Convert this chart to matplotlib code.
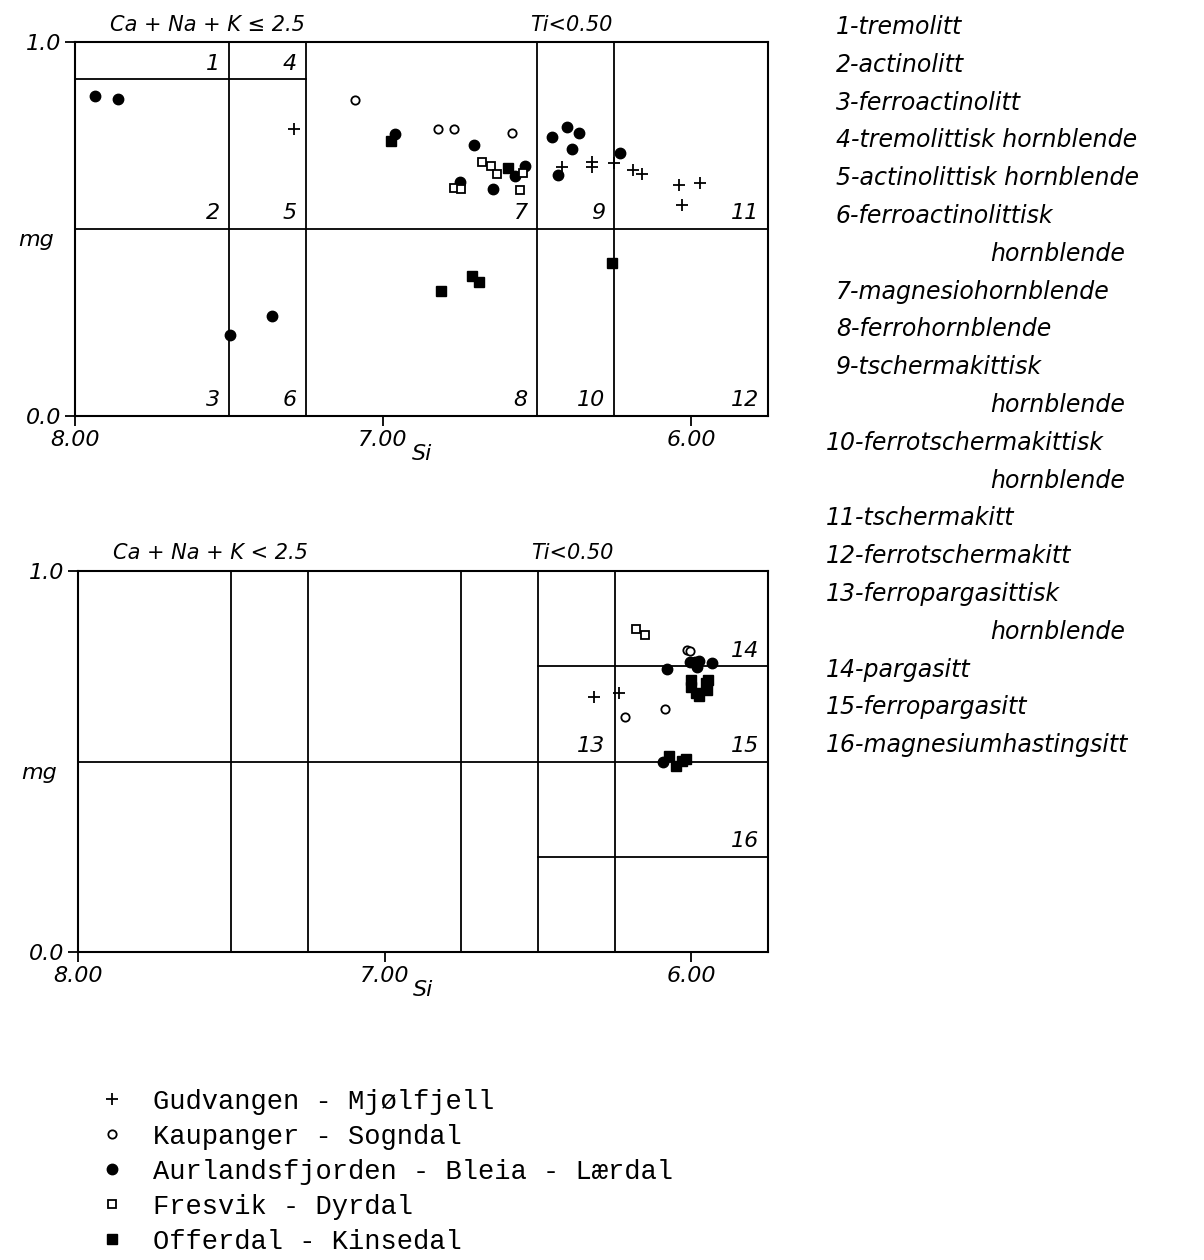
import matplotlib
matplotlib.use("Agg")
import matplotlib.pyplot as plt

# ---- values (Si, mg) ----
# upper diagram
gud_si_top = [7.29, 6.42, 6.32, 6.32, 6.25, 6.19, 6.16, 6.04, 5.97, 6.03]
gud_mg_top = [0.767, 0.667, 0.679, 0.666, 0.678, 0.657, 0.646, 0.617, 0.624, 0.564]
kau_si_top = [7.09, 6.82, 6.77, 6.58]
kau_mg_top = [0.845, 0.767, 0.768, 0.756]
aur_si_top = [7.935, 7.859, 7.498, 7.362, 6.96, 6.703, 6.749, 6.642, 6.571, 6.54,
              6.452, 6.403, 6.365, 6.388, 6.431, 6.229]
aur_mg_top = [0.856, 0.847, 0.217, 0.268, 0.755, 0.726, 0.627, 0.607, 0.641, 0.669,
              0.745, 0.774, 0.756, 0.713, 0.644, 0.703]
fre_si_top = [6.678, 6.648, 6.629, 6.769, 6.746, 6.544, 6.554]
fre_mg_top = [0.680, 0.669, 0.646, 0.611, 0.606, 0.650, 0.605]
off_si_top = [6.974, 6.594, 6.811, 6.711, 6.689, 6.256]
off_mg_top = [0.736, 0.663, 0.335, 0.375, 0.359, 0.409]

# lower diagram
gud_si_bot = [6.317, 6.237]
gud_mg_bot = [0.669, 0.681]
kau_si_bot = [6.014, 6.003, 6.085, 6.217]
kau_mg_bot = [0.792, 0.789, 0.637, 0.618]
aur_si_bot = [6.078, 5.933, 6.004, 5.989, 5.974, 5.98, 6.091]
aur_mg_bot = [0.742, 0.759, 0.760, 0.762, 0.765, 0.747, 0.500]
fre_si_bot = [6.182, 6.150]
fre_mg_bot = [0.848, 0.831]
off_si_bot = [6.0, 6.002, 5.986, 5.975, 5.953, 5.95, 5.945, 6.072, 6.05, 6.031, 6.018]
off_mg_bot = [0.714, 0.696, 0.681, 0.672, 0.706, 0.687, 0.714, 0.514, 0.487, 0.502, 0.507]

localities = ["Gudvangen - Mjølfjell", "Kaupanger - Sogndal",
              "Aurlandsfjorden - Bleia - Lærdal", "Fresvik - Dyrdal",
              "Offerdal - Kinsedal"]

# field boundaries
top_vlines = [7.5, 7.25, 6.5, 6.25]
top_hlines = [(0.5, 8.0, 5.75), (0.9, 8.0, 7.25)]
top_labels = [("1", 7.5, 0.9), ("4", 7.25, 0.9), ("2", 7.5, 0.5), ("5", 7.25, 0.5),
              ("3", 7.5, 0.0), ("6", 7.25, 0.0), ("7", 6.5, 0.5), ("8", 6.5, 0.0),
              ("9", 6.25, 0.5), ("10", 6.25, 0.0), ("11", 5.75, 0.5), ("12", 5.75, 0.0)]
bot_vlines = [7.5, 7.25, 6.75, 6.5, 6.25]
bot_hlines = [(0.5, 8.0, 5.75), (0.75, 6.5, 5.75), (0.25, 6.5, 5.75)]
bot_labels = [("13", 6.25, 0.5), ("14", 5.75, 0.75), ("15", 5.75, 0.5), ("16", 5.75, 0.25)]

names = ["1-tremolitt", "2-actinolitt", "3-ferroactinolitt", "4-tremolittisk hornblende",
         "5-actinolittisk hornblende", "6-ferroactinolittisk", "hornblende",
         "7-magnesiohornblende", "8-ferrohornblende", "9-tschermakittisk", "hornblende",
         "10-ferrotschermakittisk", "hornblende", "11-tschermakitt", "12-ferrotschermakitt",
         "13-ferropargasittisk", "hornblende", "14-pargasitt", "15-ferropargasitt",
         "16-magnesiumhastingsitt"]

styles = [dict(marker="+", ms=9, mew=1.3, color="black"),
          dict(marker="o", ms=6, mew=1.3, mfc="white", color="black"),
          dict(marker="o", ms=7.5, color="black"),
          dict(marker="s", ms=6, mew=1.3, mfc="white", color="black"),
          dict(marker="s", ms=7, color="black")]

ital = dict(family="DejaVu Sans", style="italic")

fig = plt.figure(figsize=(12.04, 12.6), dpi=100)
ax1 = fig.add_axes([0.0623, 0.6698, 0.5756, 0.2968])
ax2 = fig.add_axes([0.0648, 0.2444, 0.5731, 0.3024])


def draw_diagram(ax, groups, vlines, hlines, labels, cond):
    for x in vlines:
        ax.axvline(x, color="black", lw=1.3)
    for y, x0, x1 in hlines:
        ax.plot([x0, x1], [y, y], color="black", lw=1.3)
    for txt, x, y in labels:
        ax.text(x + 0.03, y + 0.015, txt, ha="right", va="bottom", fontsize=16, **ital)
    handles = []
    for (si, mg), st, lab in zip(groups, styles, localities):
        h, = ax.plot(si, mg, linestyle="none", label=lab, **st)
        handles.append(h)
    ax.set_xlim(8.0, 5.75)
    ax.set_ylim(0, 1.0)
    ax.set_xticks([8.0, 7.0, 6.0])
    ax.set_xticklabels(["8.00", "7.00", "6.00"], fontsize=16, **ital)
    ax.set_yticks([0.0, 1.0])
    ax.set_yticklabels(["0.0", "1.0"], fontsize=16, **ital)
    ax.tick_params(direction="out", length=7, width=1.3, pad=3)
    for sp in ax.spines.values():
        sp.set_linewidth(1.5)
    ax.set_xlabel("Si", fontsize=16, labelpad=-4, **ital)
    ax.text(-0.03, 0.47, "mg", transform=ax.transAxes, ha="right", va="center",
            fontsize=16, **ital)
    ax.text(0.05, 1.02, cond, transform=ax.transAxes, ha="left", va="bottom",
            fontsize=15, **ital)
    ax.text(0.657, 1.02, "Ti<0.50", transform=ax.transAxes, ha="left", va="bottom",
            fontsize=15, **ital)
    return handles


handles = draw_diagram(ax1, [(gud_si_top, gud_mg_top), (kau_si_top, kau_mg_top),
                             (aur_si_top, aur_mg_top), (fre_si_top, fre_mg_top),
                             (off_si_top, off_mg_top)],
                       top_vlines, top_hlines, top_labels, "Ca + Na + K ≤ 2.5")
draw_diagram(ax2, [(gud_si_bot, gud_mg_bot), (kau_si_bot, kau_mg_bot),
                   (aur_si_bot, aur_mg_bot), (fre_si_bot, fre_mg_bot),
                   (off_si_bot, off_mg_bot)],
             bot_vlines, bot_hlines, bot_labels, "Ca + Na + K < 2.5")

# list of field names on the right
for i, name in enumerate(names):
    x = 990 if name == "hornblende" else (826 if name[1].isdigit() else 836)
    y = 27 + i * 37.8
    fig.text(x / 1204, 1 - y / 1260, name, ha="left", va="center", fontsize=17, **ital)

fig.legend(handles=handles, labels=localities, loc="upper left",
           bbox_to_anchor=(88 / 1204, 1 - 1078 / 1260), frameon=False,
           prop=dict(family="Liberation Mono", size=19.5), handlelength=1.0,
           handletextpad=1.0, labelspacing=0.33, borderaxespad=0)

fig.savefig("out.png", dpi=100)
